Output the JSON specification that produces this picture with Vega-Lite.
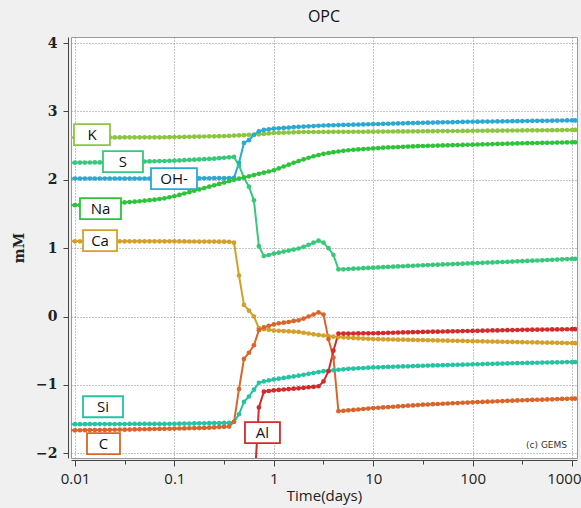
{
"$schema": "https://vega.github.io/schema/vega-lite/v6.json",
"width": 506, "height": 421,
"autosize": "none",
"padding": {"left": 71, "top": 37, "right": 4, "bottom": 50},
"background": "#f0f0f0",
"title": {"text": "OPC", "font": "Open Sans", "fontSize": 16, "fontWeight": "normal", "color": "#111", "offset": 11},
"config": {"view": {"fill": "white", "stroke": "#999", "strokeWidth": 1}},
"datasets": {
"series": [
{"t":0.008913,"K":2.62,"S":2.25,"OH-":2.02,"Na":1.63,"Ca":1.10,"Si":-1.575,"C":-1.665},
{"t":0.01,"K":2.62,"S":2.251,"OH-":2.02,"Na":1.63,"Ca":1.10,"Si":-1.575,"C":-1.665},
{"t":0.01122,"K":2.62,"S":2.252,"OH-":2.02,"Na":1.632,"Ca":1.10,"Si":-1.575,"C":-1.664},
{"t":0.01259,"K":2.62,"S":2.253,"OH-":2.02,"Na":1.634,"Ca":1.10,"Si":-1.575,"C":-1.663},
{"t":0.01413,"K":2.62,"S":2.254,"OH-":2.02,"Na":1.636,"Ca":1.10,"Si":-1.574,"C":-1.662},
{"t":0.01585,"K":2.62,"S":2.255,"OH-":2.02,"Na":1.64,"Ca":1.10,"Si":-1.574,"C":-1.661},
{"t":0.01778,"K":2.62,"S":2.255,"OH-":2.02,"Na":1.645,"Ca":1.10,"Si":-1.574,"C":-1.66},
{"t":0.01995,"K":2.62,"S":2.256,"OH-":2.02,"Na":1.65,"Ca":1.10,"Si":-1.574,"C":-1.659},
{"t":0.02239,"K":2.62,"S":2.257,"OH-":2.02,"Na":1.655,"Ca":1.10,"Si":-1.573,"C":-1.658},
{"t":0.02512,"K":2.62,"S":2.258,"OH-":2.02,"Na":1.66,"Ca":1.10,"Si":-1.573,"C":-1.657},
{"t":0.02818,"K":2.62,"S":2.259,"OH-":2.02,"Na":1.665,"Ca":1.10,"Si":-1.573,"C":-1.656},
{"t":0.03162,"K":2.622,"S":2.26,"OH-":2.02,"Na":1.67,"Ca":1.10,"Si":-1.573,"C":-1.655},
{"t":0.03548,"K":2.622,"S":2.262,"OH-":2.02,"Na":1.675,"Ca":1.10,"Si":-1.572,"C":-1.654},
{"t":0.03981,"K":2.622,"S":2.264,"OH-":2.02,"Na":1.68,"Ca":1.10,"Si":-1.572,"C":-1.652},
{"t":0.04467,"K":2.622,"S":2.266,"OH-":2.02,"Na":1.687,"Ca":1.10,"Si":-1.572,"C":-1.651},
{"t":0.05012,"K":2.622,"S":2.268,"OH-":2.02,"Na":1.695,"Ca":1.10,"Si":-1.572,"C":-1.649},
{"t":0.05623,"K":2.622,"S":2.27,"OH-":2.02,"Na":1.702,"Ca":1.10,"Si":-1.571,"C":-1.648},
{"t":0.0631,"K":2.622,"S":2.272,"OH-":2.02,"Na":1.71,"Ca":1.10,"Si":-1.571,"C":-1.646},
{"t":0.07079,"K":2.622,"S":2.274,"OH-":2.02,"Na":1.72,"Ca":1.10,"Si":-1.571,"C":-1.645},
{"t":0.07943,"K":2.623,"S":2.276,"OH-":2.02,"Na":1.73,"Ca":1.10,"Si":-1.571,"C":-1.643},
{"t":0.08913,"K":2.624,"S":2.278,"OH-":2.02,"Na":1.745,"Ca":1.10,"Si":-1.57,"C":-1.642},
{"t":0.1,"K":2.625,"S":2.28,"OH-":2.022,"Na":1.76,"Ca":1.10,"Si":-1.57,"C":-1.64},
{"t":0.1122,"K":2.627,"S":2.284,"OH-":2.022,"Na":1.78,"Ca":1.099,"Si":-1.568,"C":-1.638},
{"t":0.1259,"K":2.628,"S":2.288,"OH-":2.022,"Na":1.80,"Ca":1.099,"Si":-1.567,"C":-1.637},
{"t":0.1413,"K":2.63,"S":2.291,"OH-":2.022,"Na":1.82,"Ca":1.098,"Si":-1.566,"C":-1.635},
{"t":0.1585,"K":2.631,"S":2.295,"OH-":2.022,"Na":1.84,"Ca":1.098,"Si":-1.564,"C":-1.633},
{"t":0.1778,"K":2.633,"S":2.299,"OH-":2.022,"Na":1.86,"Ca":1.097,"Si":-1.563,"C":-1.632},
{"t":0.1995,"K":2.634,"S":2.302,"OH-":2.022,"Na":1.88,"Ca":1.097,"Si":-1.562,"C":-1.63},
{"t":0.2239,"K":2.636,"S":2.306,"OH-":2.022,"Na":1.90,"Ca":1.096,"Si":-1.56,"C":-1.626},
{"t":0.2512,"K":2.637,"S":2.31,"OH-":2.025,"Na":1.92,"Ca":1.096,"Si":-1.559,"C":-1.622},
{"t":0.2818,"K":2.639,"S":2.317,"OH-":2.025,"Na":1.94,"Ca":1.095,"Si":-1.558,"C":-1.618},
{"t":0.3162,"K":2.64,"S":2.323,"OH-":2.025,"Na":1.96,"Ca":1.095,"Si":-1.557,"C":-1.614},
{"t":0.3548,"K":2.643,"S":2.33,"OH-":2.025,"Na":1.98,"Ca":1.094,"Si":-1.555,"C":-1.61},
{"t":0.3981,"K":2.647,"S":2.335,"OH-":2.03,"Na":2.00,"Ca":1.08,"Si":-1.54,"C":-1.54},
{"t":0.4467,"K":2.65,"S":2.21,"OH-":2.25,"Na":2.018,"Ca":0.60,"Si":-1.43,"C":-1.06},
{"t":0.5012,"K":2.653,"S":2.03,"OH-":2.54,"Na":2.035,"Ca":0.17,"Si":-1.25,"C":-0.62},
{"t":0.5623,"K":2.657,"S":1.90,"OH-":2.58,"Na":2.052,"Ca":0.085,"Si":-1.17,"C":-0.53},
{"t":0.631,"K":2.66,"S":1.70,"OH-":2.66,"Na":2.07,"Ca":0.00,"Si":-1.07,"C":-0.42,"Al":-2.6},
{"t":0.7079,"K":2.666,"S":1.03,"OH-":2.71,"Na":2.088,"Ca":-0.17,"Si":-0.97,"C":-0.20,"Al":-1.33},
{"t":0.7943,"K":2.672,"S":0.885,"OH-":2.73,"Na":2.105,"Ca":-0.185,"Si":-0.95,"C":-0.16,"Al":-1.10},
{"t":0.8913,"K":2.679,"S":0.90,"OH-":2.74,"Na":2.122,"Ca":-0.195,"Si":-0.935,"C":-0.135,"Al":-1.09},
{"t":1,"K":2.685,"S":0.92,"OH-":2.75,"Na":2.14,"Ca":-0.205,"Si":-0.92,"C":-0.115,"Al":-1.08},
{"t":1.122,"K":2.688,"S":0.935,"OH-":2.755,"Na":2.167,"Ca":-0.209,"Si":-0.909,"C":-0.10,"Al":-1.074},
{"t":1.259,"K":2.69,"S":0.95,"OH-":2.76,"Na":2.195,"Ca":-0.213,"Si":-0.898,"C":-0.09,"Al":-1.068},
{"t":1.413,"K":2.693,"S":0.965,"OH-":2.765,"Na":2.222,"Ca":-0.217,"Si":-0.887,"C":-0.08,"Al":-1.062},
{"t":1.585,"K":2.695,"S":0.98,"OH-":2.77,"Na":2.25,"Ca":-0.221,"Si":-0.876,"C":-0.065,"Al":-1.056},
{"t":1.778,"K":2.698,"S":0.995,"OH-":2.775,"Na":2.275,"Ca":-0.225,"Si":-0.865,"C":-0.055,"Al":-1.05},
{"t":1.995,"K":2.70,"S":1.02,"OH-":2.779,"Na":2.30,"Ca":-0.237,"Si":-0.852,"C":-0.03,"Al":-1.043},
{"t":2.239,"K":2.70,"S":1.05,"OH-":2.783,"Na":2.323,"Ca":-0.248,"Si":-0.839,"C":0.00,"Al":-1.035},
{"t":2.512,"K":2.70,"S":1.08,"OH-":2.787,"Na":2.345,"Ca":-0.26,"Si":-0.826,"C":0.03,"Al":-1.028},
{"t":2.818,"K":2.70,"S":1.11,"OH-":2.791,"Na":2.363,"Ca":-0.269,"Si":-0.813,"C":0.06,"Al":-1.02},
{"t":3.162,"K":2.701,"S":1.08,"OH-":2.795,"Na":2.38,"Ca":-0.278,"Si":-0.80,"C":0.03,"Al":-0.95},
{"t":3.548,"K":2.701,"S":1.00,"OH-":2.797,"Na":2.393,"Ca":-0.286,"Si":-0.793,"C":-0.33,"Al":-0.80},
{"t":3.981,"K":2.702,"S":0.90,"OH-":2.799,"Na":2.405,"Ca":-0.295,"Si":-0.786,"C":-0.60,"Al":-0.50},
{"t":4.467,"K":2.702,"S":0.69,"OH-":2.801,"Na":2.415,"Ca":-0.30,"Si":-0.779,"C":-1.385,"Al":-0.25},
{"t":5.012,"K":2.703,"S":0.69,"OH-":2.803,"Na":2.425,"Ca":-0.305,"Si":-0.772,"C":-1.38,"Al":-0.25},
{"t":5.623,"K":2.703,"S":0.695,"OH-":2.805,"Na":2.433,"Ca":-0.31,"Si":-0.765,"C":-1.373,"Al":-0.249},
{"t":6.31,"K":2.704,"S":0.70,"OH-":2.807,"Na":2.44,"Ca":-0.315,"Si":-0.761,"C":-1.366,"Al":-0.248},
{"t":7.079,"K":2.704,"S":0.703,"OH-":2.809,"Na":2.445,"Ca":-0.319,"Si":-0.757,"C":-1.36,"Al":-0.247},
{"t":7.943,"K":2.704,"S":0.707,"OH-":2.811,"Na":2.45,"Ca":-0.322,"Si":-0.753,"C":-1.353,"Al":-0.246},
{"t":8.913,"K":2.705,"S":0.711,"OH-":2.813,"Na":2.455,"Ca":-0.326,"Si":-0.749,"C":-1.347,"Al":-0.246},
{"t":10,"K":2.705,"S":0.715,"OH-":2.815,"Na":2.46,"Ca":-0.33,"Si":-0.745,"C":-1.34,"Al":-0.245},
{"t":11.22,"K":2.706,"S":0.719,"OH-":2.817,"Na":2.465,"Ca":-0.332,"Si":-0.743,"C":-1.335,"Al":-0.243},
{"t":12.59,"K":2.706,"S":0.722,"OH-":2.819,"Na":2.47,"Ca":-0.333,"Si":-0.74,"C":-1.33,"Al":-0.241},
{"t":14.13,"K":2.707,"S":0.726,"OH-":2.821,"Na":2.474,"Ca":-0.335,"Si":-0.738,"C":-1.325,"Al":-0.239},
{"t":15.85,"K":2.707,"S":0.729,"OH-":2.823,"Na":2.477,"Ca":-0.336,"Si":-0.735,"C":-1.32,"Al":-0.237},
{"t":17.78,"K":2.708,"S":0.733,"OH-":2.825,"Na":2.48,"Ca":-0.338,"Si":-0.733,"C":-1.315,"Al":-0.235},
{"t":19.95,"K":2.709,"S":0.736,"OH-":2.827,"Na":2.483,"Ca":-0.339,"Si":-0.73,"C":-1.31,"Al":-0.233},
{"t":22.39,"K":2.709,"S":0.74,"OH-":2.829,"Na":2.486,"Ca":-0.341,"Si":-0.728,"C":-1.305,"Al":-0.231},
{"t":25.12,"K":2.71,"S":0.743,"OH-":2.831,"Na":2.489,"Ca":-0.342,"Si":-0.725,"C":-1.30,"Al":-0.229},
{"t":28.18,"K":2.71,"S":0.747,"OH-":2.833,"Na":2.492,"Ca":-0.344,"Si":-0.723,"C":-1.295,"Al":-0.227},
{"t":31.62,"K":2.711,"S":0.75,"OH-":2.835,"Na":2.495,"Ca":-0.345,"Si":-0.72,"C":-1.29,"Al":-0.225},
{"t":35.48,"K":2.712,"S":0.753,"OH-":2.837,"Na":2.497,"Ca":-0.347,"Si":-0.718,"C":-1.287,"Al":-0.224},
{"t":39.81,"K":2.712,"S":0.756,"OH-":2.838,"Na":2.499,"Ca":-0.348,"Si":-0.716,"C":-1.283,"Al":-0.222},
{"t":44.67,"K":2.713,"S":0.759,"OH-":2.84,"Na":2.501,"Ca":-0.35,"Si":-0.714,"C":-1.28,"Al":-0.221},
{"t":50.12,"K":2.713,"S":0.762,"OH-":2.841,"Na":2.503,"Ca":-0.351,"Si":-0.712,"C":-1.276,"Al":-0.219},
{"t":56.23,"K":2.714,"S":0.765,"OH-":2.843,"Na":2.505,"Ca":-0.353,"Si":-0.71,"C":-1.273,"Al":-0.218},
{"t":63.1,"K":2.715,"S":0.768,"OH-":2.844,"Na":2.507,"Ca":-0.354,"Si":-0.708,"C":-1.269,"Al":-0.216},
{"t":70.79,"K":2.715,"S":0.771,"OH-":2.846,"Na":2.509,"Ca":-0.356,"Si":-0.706,"C":-1.266,"Al":-0.215},
{"t":79.43,"K":2.716,"S":0.774,"OH-":2.847,"Na":2.511,"Ca":-0.357,"Si":-0.704,"C":-1.262,"Al":-0.213},
{"t":89.13,"K":2.716,"S":0.777,"OH-":2.849,"Na":2.513,"Ca":-0.359,"Si":-0.702,"C":-1.259,"Al":-0.212},
{"t":100,"K":2.717,"S":0.78,"OH-":2.85,"Na":2.515,"Ca":-0.36,"Si":-0.70,"C":-1.255,"Al":-0.21},
{"t":112.2,"K":2.718,"S":0.783,"OH-":2.851,"Na":2.517,"Ca":-0.362,"Si":-0.698,"C":-1.252,"Al":-0.209},
{"t":125.9,"K":2.718,"S":0.786,"OH-":2.852,"Na":2.519,"Ca":-0.363,"Si":-0.696,"C":-1.249,"Al":-0.207},
{"t":141.3,"K":2.719,"S":0.789,"OH-":2.853,"Na":2.521,"Ca":-0.365,"Si":-0.694,"C":-1.246,"Al":-0.206},
{"t":158.5,"K":2.719,"S":0.792,"OH-":2.854,"Na":2.523,"Ca":-0.366,"Si":-0.692,"C":-1.243,"Al":-0.204},
{"t":177.8,"K":2.72,"S":0.795,"OH-":2.855,"Na":2.525,"Ca":-0.368,"Si":-0.69,"C":-1.24,"Al":-0.203},
{"t":199.5,"K":2.721,"S":0.798,"OH-":2.856,"Na":2.527,"Ca":-0.369,"Si":-0.688,"C":-1.237,"Al":-0.201},
{"t":223.9,"K":2.721,"S":0.801,"OH-":2.857,"Na":2.529,"Ca":-0.371,"Si":-0.686,"C":-1.234,"Al":-0.2},
{"t":251.2,"K":2.722,"S":0.804,"OH-":2.858,"Na":2.531,"Ca":-0.372,"Si":-0.684,"C":-1.231,"Al":-0.198},
{"t":281.8,"K":2.722,"S":0.807,"OH-":2.859,"Na":2.533,"Ca":-0.374,"Si":-0.682,"C":-1.228,"Al":-0.197},
{"t":316.2,"K":2.723,"S":0.81,"OH-":2.86,"Na":2.535,"Ca":-0.375,"Si":-0.68,"C":-1.225,"Al":-0.195},
{"t":354.8,"K":2.724,"S":0.813,"OH-":2.861,"Na":2.536,"Ca":-0.376,"Si":-0.679,"C":-1.223,"Al":-0.194},
{"t":398.1,"K":2.724,"S":0.817,"OH-":2.862,"Na":2.538,"Ca":-0.378,"Si":-0.677,"C":-1.22,"Al":-0.193},
{"t":446.7,"K":2.725,"S":0.82,"OH-":2.863,"Na":2.539,"Ca":-0.379,"Si":-0.676,"C":-1.218,"Al":-0.192},
{"t":501.2,"K":2.726,"S":0.823,"OH-":2.864,"Na":2.541,"Ca":-0.381,"Si":-0.674,"C":-1.216,"Al":-0.191},
{"t":562.3,"K":2.726,"S":0.827,"OH-":2.865,"Na":2.542,"Ca":-0.382,"Si":-0.673,"C":-1.213,"Al":-0.19},
{"t":631,"K":2.727,"S":0.83,"OH-":2.866,"Na":2.543,"Ca":-0.383,"Si":-0.672,"C":-1.211,"Al":-0.189},
{"t":707.9,"K":2.727,"S":0.833,"OH-":2.867,"Na":2.545,"Ca":-0.385,"Si":-0.67,"C":-1.208,"Al":-0.188},
{"t":794.3,"K":2.728,"S":0.837,"OH-":2.868,"Na":2.546,"Ca":-0.386,"Si":-0.669,"C":-1.206,"Al":-0.187},
{"t":891.3,"K":2.729,"S":0.84,"OH-":2.869,"Na":2.548,"Ca":-0.388,"Si":-0.667,"C":-1.204,"Al":-0.186},
{"t":1000,"K":2.729,"S":0.843,"OH-":2.87,"Na":2.549,"Ca":-0.389,"Si":-0.666,"C":-1.201,"Al":-0.185},
{"t":1072,"K":2.73,"S":0.845,"OH-":2.87,"Na":2.55,"Ca":-0.39,"Si":-0.665,"C":-1.20,"Al":-0.185}
],
"labels": [
{"species":"K","t":0.01483,"v":2.661},
{"species":"S","t":0.0304,"v":2.266},
{"species":"OH-","t":0.0991,"v":2.017},
{"species":"Na","t":0.01805,"v":1.578},
{"species":"Ca","t":0.01787,"v":1.11},
{"species":"Si","t":0.01914,"v":-1.32},
{"species":"C","t":0.01936,"v":-1.861},
{"species":"Al","t":0.769,"v":-1.70}
],
"note": [
{"t":891,"v":-1.88,"text":"(c) GEMS"}
]
},
"layer": [
{
"data": {"name": "series"},
"transform": [
{"fold": ["K","S","OH-","Na","Ca","Si","C","Al"], "as": ["species","v"]},
{"filter": "isValid(datum.v)"}
],
"mark": {"type": "line", "strokeWidth": 2, "clip": true},
"encoding": {
"x": {"field": "t", "type": "quantitative",
"scale": {"type": "log", "domain": [0.00912, 1122], "nice": false},
"axis": {
"values": [0.01,0.03162,0.1,0.3162,1,3.162,10,31.62,100,316.2,1000],
"format": "~g",
"labelExpr": "indexof([0.01,0.1,1,10,100,1000], datum.value) >= 0 ? datum.label : ''",
"labelFont": "Open Sans", "labelFontSize": 15, "labelColor": "#222", "labelPadding": 5,
"labelFlush": false, "labelOverlap": false,
"labelAlign": {"condition": {"test": "datum.value === 1000", "value": "right"}, "value": "center"},
"labelOffset": {"condition": {"test": "datum.value === 1000", "value": 9}, "value": 0},
"tickSize": {"condition": {"test": "indexof([0.01,0.1,1,10,100,1000], datum.value) >= 0", "value": 6}, "value": 4},
"tickColor": "#444", "domainColor": "#444", "offset": 2,
"grid": true, "gridDash": [1,2], "gridColor": "#888",
"gridOpacity": {"condition": {"test": "indexof([0.01,0.1,1,10,100,1000], datum.value) >= 0", "value": 1}, "value": 0},
"title": "Time(days)", "titleFont": "Open Sans", "titleFontSize": 15, "titleFontWeight": "normal", "titleColor": "#222", "titlePadding": 2
}},
"y": {"field": "v", "type": "quantitative",
"scale": {"domain": [-2.07, 4.09], "nice": false, "zero": false},
"axis": {
"values": [-2,-1.5,-1,-0.5,0,0.5,1,1.5,2,2.5,3,3.5,4],
"format": "~g",
"labelExpr": "datum.value % 1 === 0 ? datum.label : ''",
"labelFont": "DejaVu Serif", "labelFontWeight": "bold", "labelFontSize": 14, "labelColor": "#222", "labelPadding": 6,
"labelFlush": false, "labelOverlap": false,
"tickSize": {"condition": {"test": "datum.value % 1 === 0", "value": 5}, "value": 3},
"tickColor": "#444", "domainColor": "#444", "offset": 3,
"grid": true, "gridDash": [1,2], "gridColor": "#888",
"gridOpacity": {"condition": {"test": "datum.value % 1 === 0", "value": 1}, "value": 0},
"title": "mM", "titleFont": "DejaVu Serif", "titleFontWeight": "bold", "titleFontSize": 14, "titleColor": "#222", "titlePadding": 9
}},
"color": {"field": "species", "type": "nominal",
"scale": {"domain": ["K","S","OH-","Na","Ca","Si","C","Al"], "range": ["#8cc63f","#36c97a","#2aa9d2","#2ec43a","#d4a02b","#24c4a2","#d9652b","#d42a2c"]},
"legend": null},
"detail": {"field": "species"}
}
},
{
"data": {"name": "series"},
"transform": [
{"fold": ["K","S","OH-","Na","Ca","Si","C","Al"], "as": ["species","v"]},
{"filter": "isValid(datum.v)"}
],
"mark": {"type": "point", "filled": true, "size": 22, "opacity": 1, "clip": true},
"encoding": {
"x": {"field": "t", "type": "quantitative"},
"y": {"field": "v", "type": "quantitative"},
"color": {"field": "species", "type": "nominal", "legend": null}
}
},
{
"data": {"name": "labels"},
"mark": {"type": "point", "fill": "white", "fillOpacity": 1, "opacity": 1, "strokeWidth": 1.8, "size": 441},
"encoding": {
"x": {"field": "t", "type": "quantitative"},
"y": {"field": "v", "type": "quantitative"},
"stroke": {"field": "species", "type": "nominal",
"scale": {"domain": ["K","S","OH-","Na","Ca","Si","C","Al"], "range": ["#8cc63f","#36c97a","#2aa9d2","#2ec43a","#d4a02b","#24c4a2","#d9652b","#d42a2c"]},
"legend": null},
"shape": {"field": "species", "type": "nominal",
"scale": {"domain": ["K","S","OH-","Na","Ca","Si","C","Al"], "range": [
"M-1.714,-1H1.714V1H-1.714Z",
"M-1.905,-1H1.905V1H-1.905Z",
"M-2.19,-1H2.19V1H-2.19Z",
"M-1.952,-1H1.952V1H-1.952Z",
"M-1.619,-1H1.619V1H-1.619Z",
"M-1.905,-1H1.905V1H-1.905Z",
"M-1.571,-1H1.571V1H-1.571Z",
"M-1.667,-1H1.667V1H-1.667Z"]},
"legend": null}
}
},
{
"data": {"name": "labels"},
"mark": {"type": "text", "font": "Open Sans", "fontSize": 15, "color": "#111", "align": "center", "baseline": "middle"},
"encoding": {
"x": {"field": "t", "type": "quantitative"},
"y": {"field": "v", "type": "quantitative"},
"text": {"field": "species"}
}
},
{
"data": {"name": "note"},
"mark": {"type": "text", "font": "DejaVu Sans", "fontSize": 9, "color": "#333", "align": "right", "baseline": "middle"},
"encoding": {
"x": {"field": "t", "type": "quantitative"},
"y": {"field": "v", "type": "quantitative"},
"text": {"field": "text"}
}
}
]
}
